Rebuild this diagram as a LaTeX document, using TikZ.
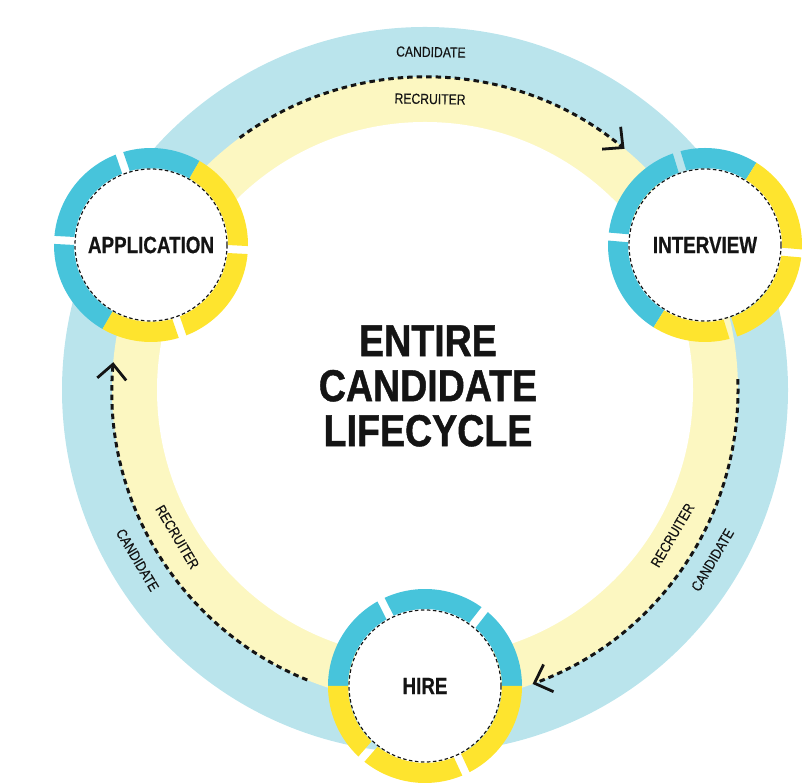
\documentclass[tikz,border=0pt]{standalone}
\usepackage{fontspec}
\setmainfont{Liberation Sans}
\newfontfamily\labelfont[FakeStretch=0.84, FakeBold=0.3]{Liberation Sans}
\newfontfamily\stagefont[FakeStretch=0.8, FakeBold=0.6]{Liberation Sans Bold}
\newfontfamily\titlefont[FakeStretch=0.84, FakeBold=1]{Liberation Sans Bold}
\usetikzlibrary{calc,arrows.meta}

\definecolor{bandblue}{HTML}{BAE4EC}
\definecolor{bandyellow}{HTML}{FCF7C1}
\definecolor{ringblue}{HTML}{47C4DB}
\definecolor{ringyellow}{HTML}{FEE42E}
\definecolor{ink}{HTML}{141414}

% one piece of a stage ring: node, start angle, end angle,
% half gap at start, half gap at end (px), colour
\newcommand\cycleseg[6]{%
  \fill[#6]
    ($(#1)+({#2+asin(#4/97)}:97)$)
    arc[start angle={#2+asin(#4/97)}, end angle={#3-asin(#5/97)}, radius=97]
    -- ($(#1)+({#3-asin(#5/77)}:77)$)
    arc[start angle={#3-asin(#5/77)}, end angle={#2+asin(#4/77)}, radius=77]
    -- cycle;}

% full stage ring: node, split angle, two gaps in the blue half, two in the yellow half
\newcommand\cyclering[6]{%
  \cycleseg{#1}{#2}{#3}{0}{4}{ringblue}
  \cycleseg{#1}{#3}{#4}{4}{4}{ringblue}
  \cycleseg{#1}{#4}{#2+180}{4}{0}{ringblue}
  \cycleseg{#1}{#2+180}{#5}{0}{4}{ringyellow}
  \cycleseg{#1}{#5}{#6}{4}{4}{ringyellow}
  \cycleseg{#1}{#6}{#2+360}{4}{0}{ringyellow}}

\begin{document}
\begin{tikzpicture}[x=1pt,y=1pt,
  flow/.style={ink, line width=3pt, dash pattern=on 5.5pt off 4pt,
    -{Straight Barb[length=15pt,width=29pt,line width=2.8pt]}},
  lbl/.style={ink, inner sep=0pt, font=\labelfont\fontsize{14.5}{15}\selectfont},
  stage/.style={circle, minimum size=152pt, inner sep=0pt, fill=white,
    draw=ink, line width=1.2pt, dash pattern=on 3.5pt off 2.5pt,
    text=ink, font=\stagefont\fontsize{23.5}{24}\selectfont},
  title/.style={ink, align=center, inner sep=0pt,
    font=\titlefont\fontsize{44.7}{45}\selectfont}]
\useasboundingbox (0,0) rectangle (802,783);

% the two bands of the lifecycle ring
\coordinate (hub) at (425,393);
\fill[bandblue] (hub) circle[radius=363];
\fill[bandyellow] (hub) circle[radius=313];
\fill[white] (hub) circle[radius=268];

% recruiter flow along the band boundary
\coordinate (topstart) at ($(hub)+(126.3:313)$);
\coordinate (rightstart) at ($(hub)+(2:313)$);
\coordinate (leftstart) at ($(hub)+(247.9:313)$);
\draw[flow] (topstart) arc[start angle=126.3, end angle=50.4, radius=313];
\draw[flow] (rightstart) arc[start angle=2, end angle=-69.9, radius=313];
\draw[flow] (leftstart) arc[start angle=247.9, end angle=174.9, radius=313];

% band labels
\node[lbl, rotate=-1] (candtop) at ($(hub)+(89:338)$) {CANDIDATE};
\node[lbl, rotate=-1] (rectop) at ($(hub)+(89:291)$) {RECRUITER};
\node[lbl, rotate=-59.4] (candleft) at ($(hub)+(210.6:334)$) {CANDIDATE};
\node[lbl, rotate=-59.4] (recleft) at ($(hub)+(210.7:288)$) {RECRUITER};
\node[lbl, rotate=59.5] (candright) at ($(hub)+(-30.6:334)$) {CANDIDATE};
\node[lbl, rotate=59.5] (recright) at ($(hub)+(-30.4:287)$) {RECRUITER};

% centre title
\node[title] (title) at (428,397) {ENTIRE\\CANDIDATE\\LIFECYCLE};

% stages
\node[stage] (app) at (151,538) {APPLICATION};
\node[stage] (int) at (705,538) {INTERVIEW};
\node[stage] (hire) at (425,97) {HIRE};

\cyclering{app}{60}{109}{177}{289}{357}
\cyclering{int}{58}{107}{175}{287}{355}
\cyclering{hire}{0}{52}{117}{229}{295}
\end{tikzpicture}
\end{document}
